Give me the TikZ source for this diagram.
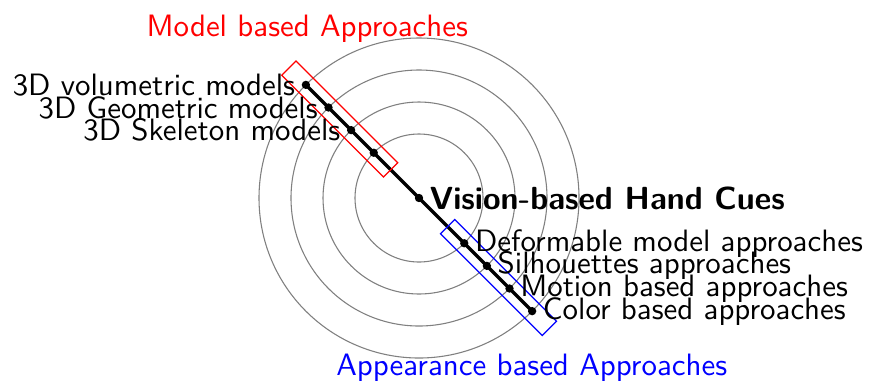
\documentclass[tikz,border=0pt]{standalone}
\usepackage{fontspec}
\begin{document}
\begin{tikzpicture}[x=0.3236pt,y=-0.3236pt,font=\sffamily,
  ring/.style={draw=gray,line width=0.35pt},
  spine/.style={draw=black,line width=1.05pt},
  dot/.style={circle,fill=black,inner sep=0pt,minimum size=2.7pt},
  groupbox/.style={draw,line width=0.4pt,rotate=-45,inner sep=0pt,
    minimum width=46.6pt,minimum height=6.47pt},
  lab/.style={inner sep=3.3pt}]
\useasboundingbox (0,0) rectangle (869,381);
\coordinate (c) at (419,198);
\foreach \r in {64,96,128,160} \draw[ring] (c) circle[radius=\r];
% positions along the diagonal
\coordinate (u1) at (373.75,152.75);
\coordinate (u2) at (351.12,130.12);
\coordinate (u3) at (328.5,107.5);
\coordinate (u4) at (305.87,84.87);
\coordinate (l1) at (464.25,243.25);
\coordinate (l2) at (486.88,265.88);
\coordinate (l3) at (509.5,288.5);
\coordinate (l4) at (532.13,311.13);
\draw[spine] (u4) -- (l4);
\foreach \p in {c,u1,u2,u3,u4,l1,l2,l3,l4} \node[dot] (d\p) at (\p) {};
% group boxes
\node[groupbox,draw=red] (mbox) at (339.75,119) {};
\node[groupbox,draw=blue] (abox) at (498.5,277.5) {};
% labels
\node[lab,anchor=west,font=\sffamily\bfseries\fontsize{10.35pt}{12pt}\selectfont] (vis) at (c) {Vision-based Hand Cues};
\node[lab,anchor=east] (t4) at (u4) {3D volumetric models};
\node[lab,anchor=east] (t3) at (u3) {3D Geometric models};
\node[lab,anchor=east] (t2) at (u2) {3D Skeleton models};
\node[lab,anchor=west] (s1) at (l1) {Deformable model approaches};
\node[lab,anchor=west] (s2) at (l2) {Silhouettes approaches};
\node[lab,anchor=west] (s3) at (l3) {Motion based approaches};
\node[lab,anchor=west] (s4) at (l4) {Color based approaches};
\node[anchor=base,text=red] (mtitle) at (307.3,36) {Model based Approaches};
\node[anchor=base,text=blue] (atitle) at (531.7,375) {Appearance based Approaches};
\end{tikzpicture}
\end{document}
